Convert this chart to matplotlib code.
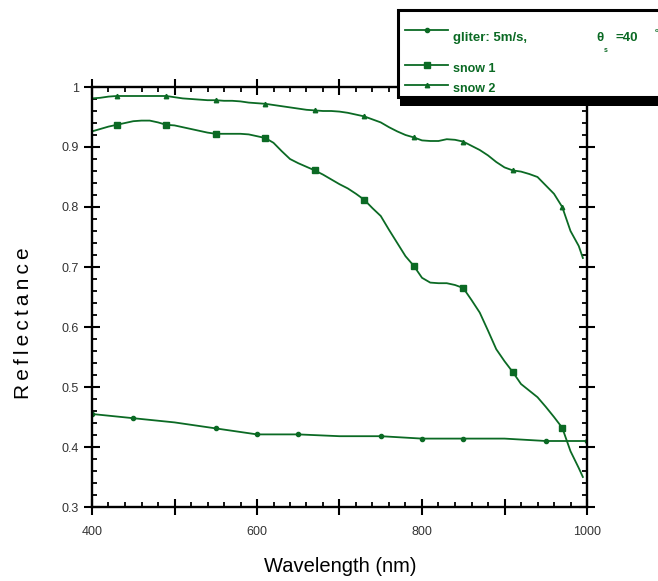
import matplotlib
matplotlib.use("Agg")
import matplotlib.pyplot as plt
from matplotlib.ticker import MultipleLocator, FuncFormatter
from matplotlib.patches import Rectangle
from matplotlib.lines import Line2D

plt.rcParams['font.family'] = ['Liberation Sans', 'DejaVu Sans']

GREEN = "#0b6a24"

# glitter (wind 5 m/s, sun zenith 40 deg)
glitter_wl = [400, 450, 500, 550, 600, 650, 700, 750, 800, 850, 900, 950, 1000]
glitter_r = [0.455, 0.448, 0.441, 0.431, 0.421, 0.421, 0.418, 0.418, 0.414, 0.414, 0.414, 0.410, 0.410]
glitter_marks = [0, 1, 3, 4, 5, 7, 8, 9, 11, 12]

snow_wl = list(range(400, 1000, 10)) + [995]
snow1_r = [0.926, 0.930, 0.934, 0.937, 0.940, 0.943, 0.944, 0.944, 0.941, 0.937,
           0.936, 0.933, 0.930, 0.927, 0.924, 0.922, 0.922, 0.922, 0.922, 0.921,
           0.918, 0.915, 0.907, 0.893, 0.880, 0.873, 0.867, 0.861, 0.854, 0.846,
           0.838, 0.831, 0.822, 0.812, 0.798, 0.785, 0.762, 0.740, 0.718, 0.702,
           0.682, 0.674, 0.673, 0.673, 0.670, 0.665, 0.645, 0.624, 0.594, 0.563,
           0.543, 0.525, 0.505, 0.494, 0.483, 0.467, 0.450, 0.432, 0.393, 0.365,
           0.350]
snow2_r = [0.981, 0.982, 0.984, 0.985, 0.985, 0.985, 0.985, 0.985, 0.985, 0.985,
           0.983, 0.981, 0.980, 0.979, 0.978, 0.978, 0.977, 0.977, 0.976, 0.974,
           0.973, 0.972, 0.970, 0.968, 0.966, 0.964, 0.962, 0.961, 0.960, 0.960,
           0.959, 0.957, 0.954, 0.951, 0.946, 0.941, 0.933, 0.926, 0.920, 0.916,
           0.911, 0.910, 0.910, 0.913, 0.912, 0.909, 0.902, 0.895, 0.886, 0.875,
           0.866, 0.861, 0.859, 0.855, 0.850, 0.836, 0.822, 0.800, 0.760, 0.735,
           0.715]

W, H = 658, 581
fig = plt.figure(figsize=(W / 100, H / 100), dpi=100)
ax = fig.add_axes([92 / W, 1 - 507 / H, 495 / W, 420 / H])

ax.plot(glitter_wl, glitter_r, color=GREEN, lw=1.3, marker='o', ms=3,
        markevery=glitter_marks)
ax.plot(snow_wl, snow1_r, color=GREEN, lw=1.3, marker='s', ms=5,
        markevery=(3, 6))
ax.plot(snow_wl, snow2_r, color=GREEN, lw=1.3, marker='^', ms=3.2,
        markevery=(3, 6))

ax.set_xlim(400, 1000)
ax.set_ylim(0.3, 1.0)
ax.xaxis.set_major_locator(MultipleLocator(100))
ax.xaxis.set_minor_locator(MultipleLocator(20))
ax.yaxis.set_major_locator(MultipleLocator(0.1))
ax.yaxis.set_minor_locator(MultipleLocator(0.02))
ax.xaxis.set_major_formatter(FuncFormatter(
    lambda v, p: "%d" % v if round(v) % 200 == 0 else ""))
ax.yaxis.set_major_formatter(FuncFormatter(lambda v, p: "%g" % round(v, 2)))

for s in ax.spines.values():
    s.set_linewidth(1.7)
ax.tick_params(which='major', direction='inout', length=11, width=1.5,
               top=True, right=True, labelsize=9, labelcolor='#333333')
ax.tick_params(which='minor', direction='in', length=3.5, width=1.3,
               top=True, right=True)
ax.tick_params(axis='x', which='major', pad=8)
ax.tick_params(axis='y', which='major', pad=4)

fig.text(340 / W, 1 - 567 / H, "Wavelength (nm)", fontsize=14.5,
         ha='center', va='center')
fig.text(24 / W, 1 - 323 / H, "R\u2009e\u2009f\u2009l\u2009e\u2009c\u2009t\u2009a\u2009n\u2009c\u2009e",
         fontsize=15, rotation=90, ha='center', va='center')

# legend box with shadow
def fx(x):
    return x / W

def fy(y):
    return 1 - y / H

fig.add_artist(Rectangle((fx(400), fy(106)), fx(720) - fx(400), fy(18) - fy(106),
                         transform=fig.transFigure, facecolor='black',
                         edgecolor='none', zorder=10))
fig.add_artist(Rectangle((fx(398), fy(97)), fx(720) - fx(398), fy(10) - fy(97),
                         transform=fig.transFigure, facecolor='white',
                         edgecolor='black', lw=2.2, zorder=11))

entries = [("o", 3, 30), ("s", 5, 65), ("^", 3.2, 85)]
for m, ms, y in entries:
    fig.add_artist(Line2D([fx(405), fx(448)], [fy(y), fy(y)],
                          transform=fig.transFigure, color=GREEN, lw=1.3,
                          zorder=12))
    fig.add_artist(Line2D([fx(427)], [fy(y)], transform=fig.transFigure,
                          color=GREEN, marker=m, ms=ms, zorder=12))

tkw = dict(color=GREEN, fontweight='bold', zorder=13)
fig.text(fx(453), fy(38), "gliter: 5m/s,", fontsize=9.5, va='center', **tkw)
fig.text(fx(596), fy(38), "\u03b8", fontsize=9.5, va='center', **tkw)
fig.text(fx(604), fy(50), "s", fontsize=5, va='center', **tkw)
fig.text(fx(615), fy(38), "=40", fontsize=9.5, va='center', **tkw)
fig.text(fx(655), fy(30), "o", fontsize=4.5, va='center', **tkw)
fig.text(fx(453), fy(69), "snow 1", fontsize=9, va='center', **tkw)
fig.text(fx(453), fy(89), "snow 2", fontsize=9, va='center', **tkw)

fig.savefig("out.png", dpi=100)
